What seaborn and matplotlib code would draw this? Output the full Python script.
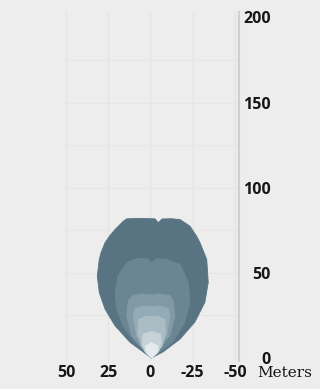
import matplotlib
matplotlib.use("Agg")
import matplotlib.pyplot as plt
import seaborn as sns

# Isolux outlines of the beam (lateral offset in metres, distance in metres),
# from the outermost / dimmest zone to the brightest core.
outer_x = [-0.5, 12.1, 21.0, 26.9, 30.3, 31.5, 30.3, 29.3, 26.9, 24.0, 21.0, 16.1, 14.1, 6.0,
           -2.7, -4.6, -6.8, -12.0, -17.5, -23.4, -27.3, -29.3, -33.3, -34.2, -32.2, -26.3, -17.5, -7.4]
outer_y = [0, 9.2, 18.9, 28.7, 38.4, 48.1, 57.9, 61.8, 67.7, 71.9, 75.4, 80.3, 81.7, 82.0,
           81.7, 79.4, 81.6, 81.8, 81.3, 77.4, 71.5, 67.7, 57.9, 44.4, 32.7, 21.1, 11.1, 3.5]

zone2_x = [-0.7, 9.2, 16.3, 20.0, 21.0, 19.2, 14.1, 8.2, 2.0, -0.7, -3.5, -9.6, -17.5, -22.4, -23.4, -20.4, -13.3]
zone2_y = [0, 9.2, 18.9, 28.7, 38.4, 48.1, 55.9, 58.3, 58.3, 56.0, 58.3, 57.9, 55.0, 44.4, 32.7, 21.0, 9.4]

zone3_x = [-0.7, 11.1, 14.1, 13.1, 10.2, 4.0, -0.7, -5.5, -11.5, -13.5, -14.5, -11.5]
zone3_y = [0, 13, 24.7, 33.5, 36.8, 37.6, 37.0, 37.6, 36.8, 33.5, 24.7, 13]

zone4_x = [-0.7, 8.2, 10.2, 9.2, 4.0, -0.7, -5.5, -10.6, -11.6, -9.6]
zone4_y = [0, 13, 24.7, 29.0, 30.6, 30.2, 30.6, 29.0, 24.7, 13]

zone5_x = [-0.7, 5.5, 7.5, 7.0, 3.0, -4.5, -8.5, -9.0, -7.0]
zone5_y = [0, 7, 15, 22.5, 24.5, 24.5, 22.5, 15, 7]

zone6_x = [-0.7, 3.5, 5.0, 4.5, -0.7, -6.0, -6.5, -5.0]
zone6_y = [0, 4, 9, 14, 15.5, 14, 9, 4]

zone7_x = [-0.7, 2.5, 3.0, -0.7, -4.5, -4.0]
zone7_y = [0, 3, 7, 9, 7, 3]

zones = [(outer_x, outer_y), (zone2_x, zone2_y), (zone3_x, zone3_y), (zone4_x, zone4_y),
         (zone5_x, zone5_y), (zone6_x, zone6_y), (zone7_x, zone7_y)]
zone_colors = ["#587483", "#6a8593", "#8099a5", "#94abb5", "#aabdc5", "#c5d2d8", "#e4eaed"]

x_ticks = [50, 25, 0, -25, -50]
x_labels = ["50", "25", "0", "-25", "-50"]
y_ticks = [0, 50, 100, 150, 200]
y_labels = ["0", "50", "100", "150", "200"]
grid_x = [50, 25, 0, -25, -50]
grid_y = [25, 50, 75, 100, 125, 150, 175]

sns.set_theme(style="white")
plt.rcParams["font.family"] = ["Open Sans", "DejaVu Sans"]

bg = "#ededed"
fig = plt.figure(figsize=(3.2, 3.89), dpi=100, facecolor=bg)
ax = fig.add_axes([65 / 320, 28 / 389, 174 / 320, 349 / 389], facecolor=bg)

for gx in grid_x:
    ax.axvline(gx, color="#e5e5e5", lw=1.0, zorder=0)
for gy in grid_y:
    ax.axhline(gy, color="#e6e6e6", lw=0.8, zorder=0)

for (zx, zy), c in zip(zones, zone_colors):
    ax.fill(zx, zy, color=c, lw=0.6, ec=c, zorder=2)

ax.set_xlim(50.6, -52.4)
ax.set_ylim(-1.8, 203.2)

ax.set_xticks(x_ticks)
ax.set_xticklabels(x_labels)
ax.set_yticks(y_ticks)
ax.set_yticklabels(y_labels)
ax.yaxis.tick_right()
ax.tick_params(axis="both", length=0, labelsize=11.5, colors="#161616")
ax.tick_params(axis="x", pad=3)
ax.tick_params(axis="y", pad=23)
for lab in ax.get_yticklabels():
    lab.set_horizontalalignment("right")
    lab.set_fontweight("bold")
for lab in ax.get_xticklabels():
    lab.set_fontweight("bold")

for side in ["left", "top", "bottom"]:
    ax.spines[side].set_visible(False)
ax.spines["right"].set_color("#cfcfcf")
ax.spines["right"].set_linewidth(1.5)

fig.text(285 / 320, 1 - 377 / 389, "Meters", ha="center", va="baseline",
         fontsize=11, family="DejaVu Serif", color="#161616")

fig.savefig("out.png", dpi=100, facecolor=bg)
